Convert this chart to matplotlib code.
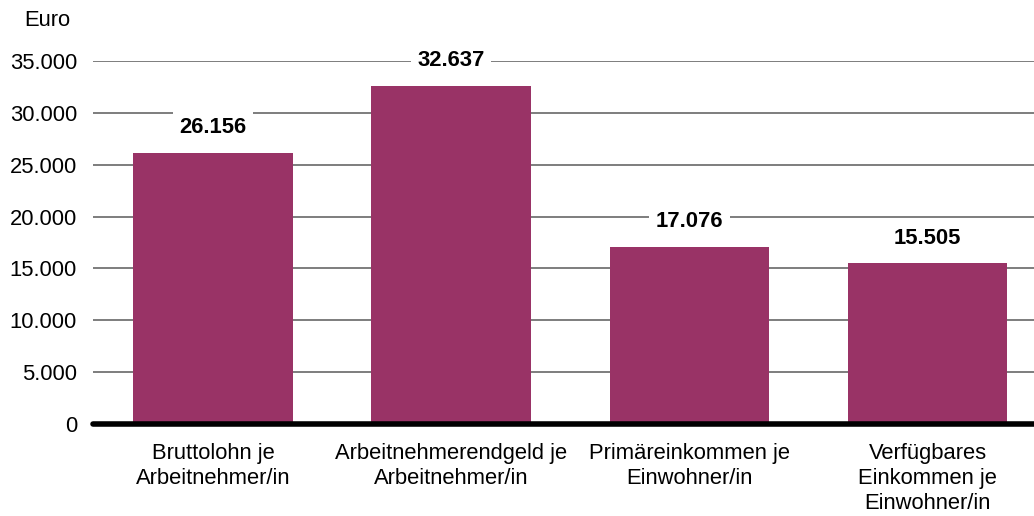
import matplotlib
matplotlib.use("Agg")
import matplotlib.pyplot as plt
from matplotlib.ticker import FuncFormatter

plt.rcParams["font.family"] = ["Liberation Sans", "DejaVu Sans"]

# Einkommen in Euro
categories = [
    "Bruttolohn je\nArbeitnehmer/in",
    "Arbeitnehmerendgeld je\nArbeitnehmer/in",
    "Primäreinkommen je\nEinwohner/in",
    "Verfügbares\nEinkommen je\nEinwohner/in",
]
values = [26156, 32637, 17076, 15505]
yticks = [0, 5000, 10000, 15000, 20000, 25000, 30000, 35000]

BAR = "#993366"
FS = 15.8


def de_fmt(v, _=None):
    return f"{int(round(v)):,}".replace(",", ".")


fig = plt.figure(figsize=(10.34, 5.16), dpi=100)
ax = fig.add_axes([93 / 1034, 1 - 424 / 516, (1034 - 93) / 1034, (424 - 61) / 516])

x = range(len(categories))
ax.bar(x, values, width=0.67, color=BAR, zorder=2)

ax.set_ylim(0, 35000)
ax.set_xlim(-0.504, 3.447)
ax.set_yticks(yticks)
ax.yaxis.set_major_formatter(FuncFormatter(de_fmt))
ax.grid(axis="y", color="#5a5a5a", lw=1.1, zorder=0)
ax.set_axisbelow(True)
ax.axhline(0, color="black", lw=4, solid_capstyle="round", zorder=3, clip_on=False)

for s in ax.spines.values():
    s.set_visible(False)
ax.tick_params(axis="y", length=0, labelsize=FS, pad=11.5)
ax.tick_params(axis="x", length=0, labelsize=FS, pad=14)
ax.set_xticks(list(x))
ax.set_xticklabels(categories, linespacing=1.25)

for i, v in enumerate(values):
    ax.annotate(de_fmt(v), (i, v), xytext=(0, 18), textcoords="offset points",
                ha="center", va="center", fontsize=FS, fontweight="bold",
                bbox=dict(boxstyle="square,pad=0.3", fc="white", ec="none"),
                zorder=4)

fig.text(24 / 1034, 1 - 21 / 516, "Euro", fontsize=FS, va="center", ha="left")

fig.savefig("out.png", dpi=100)
